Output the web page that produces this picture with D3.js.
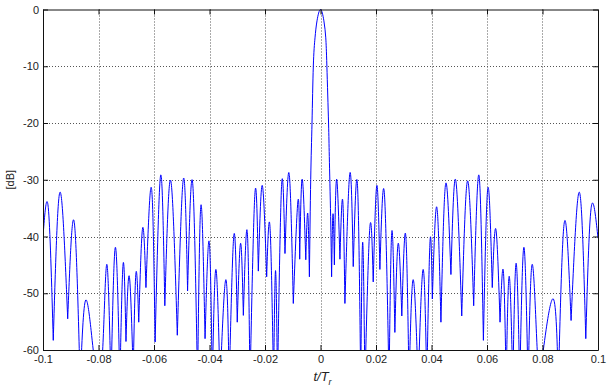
<!DOCTYPE html>
<html>
<head>
<meta charset="utf-8">
<script src="https://cdn.jsdelivr.net/npm/d3@7"></script>
<style>
  body { margin: 0; background: #fff; }
  .tick text { font-family: "Liberation Sans Narrow", "Arial Narrow", "Liberation Sans", Arial, sans-serif; font-size: 11px; fill: #222; }
</style>
</head>
<body>
<div id="chart"></div>
<script>
// delay normalised to the pulse repetition interval (t/T_r) at lobe peaks and nulls
const tau = [
  -0.1000, -0.0981, -0.0963, -0.0939, -0.0911, -0.0888, -0.0866, -0.0846, -0.0819, -0.0803, -0.0785,
  -0.0770, -0.0755, -0.0739, -0.0723, -0.0711, -0.0701, -0.0689, -0.0675, -0.0665, -0.0655, -0.0641,
  -0.0629, -0.0609, -0.0596, -0.0576, -0.0561, -0.0540, -0.0516, -0.0494, -0.0479, -0.0461, -0.0443,
  -0.0431, -0.0416, -0.0401, -0.0390, -0.0377, -0.0362, -0.0341, -0.0329, -0.0312, -0.0300, -0.0288,
  -0.0278, -0.0264, -0.0254, -0.0236, -0.0224, -0.0210, -0.0194, -0.0182, -0.0169, -0.0162, -0.0155,
  -0.0140, -0.0128, -0.0113, -0.0098, -0.0081, -0.0075, -0.0066, -0.0053, -0.0046, -0.0040,
  -0.00353, -0.00306, -0.00259, -0.00198, -0.00126, 0, 0.00122, 0.00190, 0.00230, 0.00290, 0.00317, 0.00365,
  0.0040, 0.0045, 0.0050, 0.0058, 0.0070, 0.0080, 0.0088, 0.0106, 0.0118, 0.0133, 0.0145, 0.0152,
  0.0160, 0.0178, 0.0190, 0.0203, 0.0214, 0.0230, 0.0247, 0.0257, 0.0268, 0.0280, 0.0293, 0.0307,
  0.0319, 0.0334, 0.0352, 0.0370, 0.0383, 0.0395, 0.0403, 0.0419, 0.0434, 0.0451, 0.0470, 0.0487,
  0.0509, 0.0530, 0.0552, 0.0571, 0.0587, 0.0603, 0.0619, 0.0632, 0.0647, 0.0659, 0.0669, 0.0680,
  0.0693, 0.0705, 0.0718, 0.0733, 0.0748, 0.0763, 0.0781, 0.0792, 0.0803, 0.0839, 0.0857, 0.0879,
  0.0903, 0.0933, 0.0956, 0.0975, 0.1000
];
const levelDb = [
  -40.0, -34.9, -58.3, -32.2, -54.5, -37.3, -66, -51.2, -60, -64, -60,
  -44.9, -66, -41.9, -66, -44.7, -58.5, -47.0, -64, -46.4, -55.1, -38.5,
  -49.0, -31.5, -58.6, -29.2, -52.2, -30.1, -57.4, -29.8, -49.6, -30.4, -66,
  -34.5, -58, -40.9, -66, -45.8, -66, -47.6, -66, -39.7, -55.1, -41.2,
  -53.9, -39.1, -66, -32.2, -46.1, -31.0, -47.1, -38.3, -66, -46, -66,
  -30.8, -43.0, -28.9, -51.8, -33.6, -44, -29.9, -44.1, -35.9, -47.1,
  -30, -20, -10, -5, -2, 0, -2, -5, -10, -20, -25.9, -36.5,
  -47.1, -36, -45, -29.9, -44, -33.6, -51.8, -28.8, -45.3, -30.7, -66, -41,
  -66, -38.3, -48, -31.0, -45.8, -32.3, -66, -39.1, -56.9, -41.2, -54.0, -39.7,
  -66, -47.6, -66, -45.8, -66, -40.6, -51.0, -34.8, -55.1, -30.7, -46.7, -30.0,
  -54.0, -30.2, -52.2, -29.2, -58.3, -31.5, -49.0, -38.7, -55.1, -46.1, -66, -47.0,
  -66, -44.7, -66, -41.9, -66, -44.9, -60, -64, -60, -51.0, -66, -37.4,
  -54.8, -32.2, -58.0, -35.1, -40.3
];

const xTicks = [-0.1, -0.08, -0.06, -0.04, -0.02, 0, 0.02, 0.04, 0.06, 0.08, 0.1];
const yTicks = [0, -10, -20, -30, -40, -50, -60];

const width = 607, height = 388;
const margin = {top: 9.5, right: 9, bottom: 38, left: 43};

const svg = d3.select("#chart")
    .append("svg")
    .attr("width", width)
    .attr("height", height);

const x = d3.scaleLinear()
    .domain([-0.1, 0.1])
    .range([margin.left, width - margin.right]);

const y = d3.scaleLinear()
    .domain([-60, 0])
    .range([height - margin.bottom, margin.top]);

// dotted grid
const grid = svg.append("g")
    .attr("stroke", "#555")
    .attr("stroke-width", 1)
    .attr("stroke-dasharray", "1,2");

grid.selectAll("line.vx")
    .data(xTicks.slice(1, -1))
    .enter()
    .append("line")
    .attr("x1", d => Math.round(x(d)) + 0.5)
    .attr("x2", d => Math.round(x(d)) + 0.5)
    .attr("y1", y(0))
    .attr("y2", y(-60));

grid.selectAll("line.hy")
    .data(yTicks.slice(1, -1))
    .enter()
    .append("line")
    .attr("y1", d => Math.round(y(d)) + 0.5)
    .attr("y2", d => Math.round(y(d)) + 0.5)
    .attr("x1", x(-0.1))
    .attr("x2", x(0.1));

svg.append("clipPath")
    .attr("id", "plot-clip")
    .append("rect")
    .attr("x", x(-0.1))
    .attr("y", y(0) - 1)
    .attr("width", x(0.1) - x(-0.1))
    .attr("height", y(-60) - y(0) + 1);

// split the trace at its nulls so every lobe is an arch with a sharp notch between lobes
const points = tau.map((t, i) => [t, levelDb[i]]);
const nulls = [0];
for (let i = 1; i < points.length - 1; i++) {
    if (levelDb[i] < levelDb[i - 1] && levelDb[i] < levelDb[i + 1]) nulls.push(i);
}
nulls.push(points.length - 1);
const lobes = d3.pairs(nulls).map(([a, b]) => points.slice(a, b + 1));

const line = d3.line()
    .x(d => x(d[0]))
    .y(d => y(d[1]))
    .curve(d3.curveNatural);

svg.append("path")
    .attr("clip-path", "url(#plot-clip)")
    .attr("fill", "none")
    .attr("stroke", "#0000ff")
    .attr("stroke-width", 1)
    .attr("stroke-linejoin", "round")
    .attr("d", lobes.map(l => line(l)).join(""));

const fmt = d => String(d);

svg.append("g")
    .attr("transform", `translate(0,${y(-60)})`)
    .call(d3.axisBottom(x).tickValues(xTicks).tickFormat(fmt).tickSizeInner(-5).tickSizeOuter(0).tickPadding(5));

svg.append("g")
    .attr("transform", `translate(0,${y(0)})`)
    .call(d3.axisTop(x).tickValues(xTicks).tickFormat("").tickSizeInner(-5).tickSizeOuter(0));

svg.append("g")
    .attr("transform", `translate(${x(-0.1)},0)`)
    .call(d3.axisLeft(y).tickValues(yTicks).tickFormat(fmt).tickSizeInner(-5).tickSizeOuter(0).tickPadding(4));

svg.append("g")
    .attr("transform", `translate(${x(0.1)},0)`)
    .call(d3.axisRight(y).tickValues(yTicks).tickFormat("").tickSizeInner(-5).tickSizeOuter(0));

svg.selectAll(".domain, .tick line").attr("stroke", "#111");

svg.append("text")
    .attr("transform", `translate(14,${(y(0) + y(-60)) / 2}) rotate(-90)`)
    .attr("text-anchor", "middle")
    .style("font-family", "Liberation Sans, Arial, sans-serif")
    .style("font-size", "11px")
    .attr("fill", "#222")
    .text("[dB]");

const xl = svg.append("text")
    .attr("x", x(0) + 2)
    .attr("y", 381)
    .attr("text-anchor", "middle")
    .style("font-family", "Liberation Sans, Arial, sans-serif")
    .style("font-size", "13px")
    .style("font-style", "italic")
    .attr("fill", "#222");
xl.append("tspan").text("t/T");
xl.append("tspan").attr("dy", 4).style("font-size", "9px").text("r");
</script>
</body>
</html>
